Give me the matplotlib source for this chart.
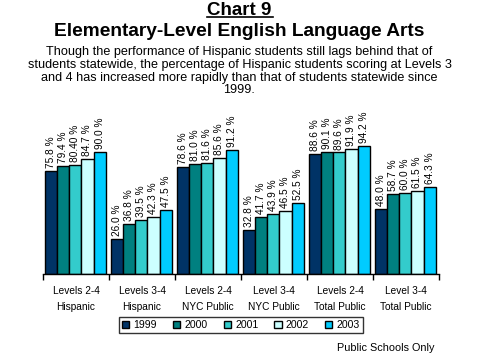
import matplotlib
matplotlib.use("Agg")
import matplotlib.pyplot as plt
import numpy as np

plt.rcParams['font.family'] = ['Liberation Sans', 'DejaVu Sans']

categories = ["Levels 2-4\nHispanic", "Levels 3-4\nHispanic", "Levels 2-4\nNYC Public",
              "Level 3-4\nNYC Public", "Levels 2-4\nTotal Public", "Level 3-4\nTotal Public"]
years = ["1999", "2000", "2001", "2002", "2003"]
v1999 = [75.8, 26.0, 78.6, 32.8, 88.6, 48.0]
v2000 = [79.4, 36.8, 81.0, 41.7, 90.1, 58.7]
v2001 = [80.4, 39.5, 81.6, 43.9, 89.6, 60.0]
v2002 = [84.7, 42.3, 85.6, 46.5, 91.9, 61.5]
v2003 = [90.0, 47.5, 91.2, 52.5, 94.2, 64.3]
labels2001 = ["80.40 %", "39.5 %", "81.6 %", "43.9 %", "89.6 %", "60.0 %"]
series = [v1999, v2000, v2001, v2002, v2003]
colors = ["#003366", "#008080", "#33CCCC", "#CCFFFF", "#00CCFF"]
subtitle = ["Though the performance of Hispanic students still lags behind that of",
            "students statewide, the percentage of Hispanic students scoring at Levels 3",
            "and 4 has increased more rapidly than that of students statewide since",
            "1999."]

fig = plt.figure(figsize=(4.79, 3.59), dpi=100)
ax = fig.add_axes([0.0898, 0.2368, 0.8267, 0.3777])

x = np.arange(len(categories))
w = 0.184
for i, (vals, c, yr) in enumerate(zip(series, colors, years)):
    pos = x - 2 * w + i * w - 0.01
    ax.bar(pos, vals, width=w, color=c, edgecolor="black", linewidth=1.0, label=yr)
    for j, (p, v) in enumerate(zip(pos, vals)):
        txt = labels2001[j] if i == 2 else f"{v:.1f} %"
        ax.text(p, v + 2.2, txt, rotation=90, ha="center", va="bottom", fontsize=7.3)

ax.set_xlim(-0.5, len(categories) - 0.5)
ax.set_ylim(0, 100)
for s in ["top", "right", "left"]:
    ax.spines[s].set_visible(False)
ax.spines["bottom"].set_linewidth(1.0)
ax.set_yticks([])
ax.set_xticks(np.arange(-0.5, len(categories), 1.0), minor=False)
ax.set_xticklabels([])
ax.tick_params(axis="x", length=4, width=1, direction="out")
for xi, cat in zip(x, categories):
    ax.text(xi, -8.5, cat, ha="center", va="top", fontsize=7.3, linespacing=1.75,
            transform=ax.transData, clip_on=False)

leg = fig.legend(loc="center", bbox_to_anchor=(0.503, 0.094), ncol=5, fontsize=7.6,
                 frameon=True, fancybox=False, edgecolor="black", handlelength=0.7,
                 handleheight=0.7, handletextpad=0.4, columnspacing=1.5,
                 borderpad=0.3, borderaxespad=0)
leg.get_frame().set_linewidth(1.0)

fig.text(0.5, 0.972, "Chart 9", ha="center", va="center", fontsize=13.5, fontweight="bold")
fig.add_artist(plt.Line2D([0.432, 0.570], [0.952, 0.952], color="black", linewidth=1.2))
fig.text(0.5, 0.911, "Elementary-Level English Language Arts", ha="center", va="center",
         fontsize=13.8, fontweight="bold")
for k, (line, ypx) in enumerate(zip(subtitle, [52, 65, 78, 90])):
    fig.text(0.5, 1 - ypx / 359, line, ha="center", va="center", fontsize=9.1)
fig.text(0.908, 0.032, "Public Schools Only", ha="right", va="center", fontsize=7.8)

fig.savefig("out.png", dpi=100)
